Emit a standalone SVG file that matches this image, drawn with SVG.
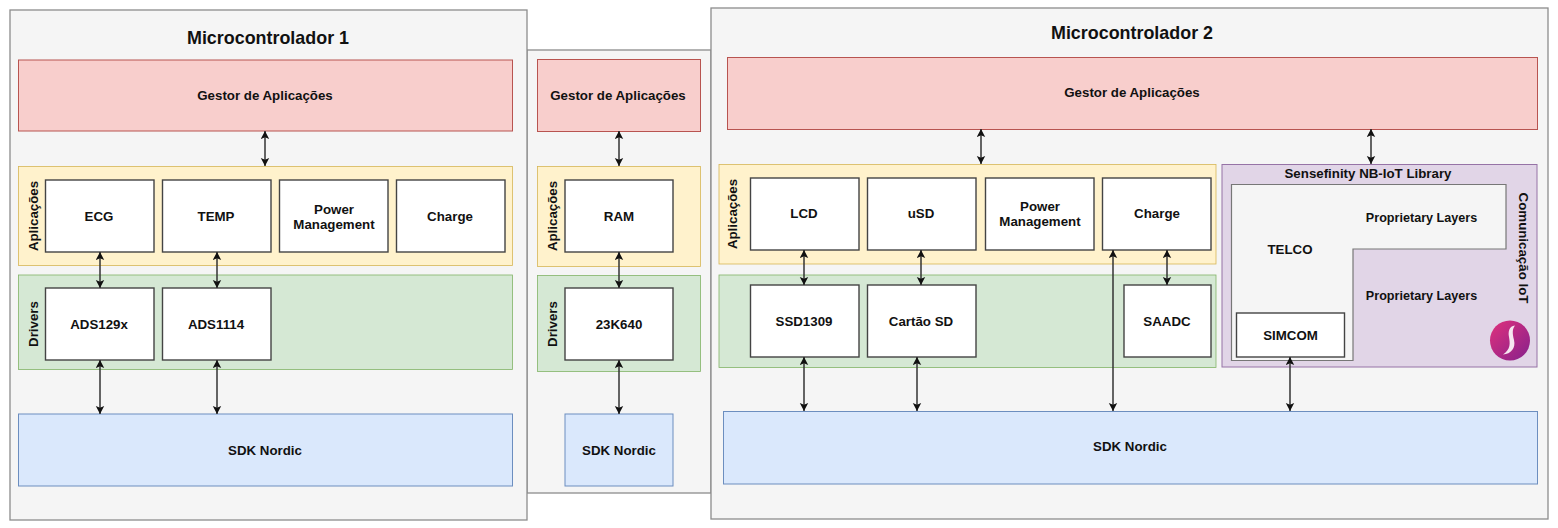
<svg xmlns="http://www.w3.org/2000/svg" width="1558" height="528" viewBox="0 0 1558 528">
<defs>
<marker id="ah" markerUnits="userSpaceOnUse" markerWidth="10" markerHeight="10" refX="8" refY="4.500" orient="auto-start-reverse"><path d="M0 0.300L8 4.500L0 8.700L1.800 4.500Z" fill="#111"/></marker>
<linearGradient id="lg" x1="0" y1="0" x2="1" y2="1"><stop offset="0" stop-color="#e0317c"/><stop offset="1" stop-color="#86208c"/></linearGradient>
</defs>
<style>
text{font-family:"Liberation Sans",Arial,sans-serif;font-weight:700;font-size:13.3px;fill:#111;text-anchor:middle;dominant-baseline:central}
.t{font-size:17.9px}
.s{font-size:12.6px}
.o{fill:#f5f5f5;stroke:#8c8c8c;stroke-width:1.3}
.r{fill:#f8cecc;stroke:#b85450;stroke-width:1}
.y{fill:#fff2cc;stroke:#d6b656;stroke-width:.8}
.g{fill:#d5e8d4;stroke:#82b366;stroke-width:.8}
.b{fill:#dae8fc;stroke:#6c8ebf;stroke-width:1}
.p{fill:#e1d5e7;stroke:#9673a6;stroke-width:1}
.w{fill:#fff;stroke:#444;stroke-width:1.400}
#connectors line{stroke:#333;stroke-width:1.500;marker-start:url(#ah);marker-end:url(#ah)}
</style>
<rect width="1558" height="528" fill="#fff"/>
<g id="panel-center">
<rect class="o" x="527" y="50" width="184" height="443"/>
<rect class="r" x="537.500" y="59.500" width="163" height="72"/><text x="618" y="95">Gestor de Aplicações</text>
<rect class="y" x="537.500" y="166.500" width="163" height="100"/><text x="552" y="216" transform="rotate(-90 552 216)">Aplicações</text>
<rect class="g" x="537.500" y="275.500" width="163" height="96"/><text x="552" y="324" transform="rotate(-90 552 324)">Drivers</text>
<rect class="w" x="565" y="180" width="108" height="72"/><text x="619" y="216">RAM</text>
<rect class="w" x="565" y="288" width="108" height="72"/><text x="619" y="324">23K640</text>
<rect class="b" x="565" y="414" width="108" height="72"/><text x="619" y="450">SDK Nordic</text>
</g>
<g id="panel-mc1">
<rect class="o" x="10" y="10" width="517" height="510"/>
<text class="t" x="268" y="38">Microcontrolador 1</text>
<rect class="r" x="18.500" y="60" width="494" height="71"/><text x="265" y="95">Gestor de Aplicações</text>
<rect class="y" x="18.500" y="166.500" width="494" height="99"/><text x="33" y="216" transform="rotate(-90 33 216)">Aplicações</text>
<rect class="g" x="18.500" y="275" width="494" height="94.500"/><text x="33" y="324" transform="rotate(-90 33 324)">Drivers</text>
<rect class="b" x="18.500" y="414" width="494" height="72"/><text x="265" y="450">SDK Nordic</text>
<rect class="w" x="45.500" y="180" width="108.500" height="72"/><text x="99" y="216">ECG</text>
<rect class="w" x="162.500" y="180" width="108.500" height="72"/><text x="216" y="216">TEMP</text>
<rect class="w" x="279.500" y="180" width="108.500" height="72"/><text x="334" y="209">Power</text><text x="334" y="224.500">Management</text>
<rect class="w" x="396.500" y="180" width="108.500" height="72"/><text x="450" y="216">Charge</text>
<rect class="w" x="45.500" y="288" width="108.500" height="72"/><text x="99" y="324">ADS129x</text>
<rect class="w" x="162.500" y="288" width="108.500" height="72"/><text x="216" y="324">ADS1114</text>
</g>
<g id="panel-mc2">
<rect class="o" x="711" y="8" width="837" height="511"/>
<text class="t" x="1132" y="33">Microcontrolador 2</text>
<rect class="r" x="727.500" y="57.500" width="810" height="72"/><text x="1132" y="92">Gestor de Aplicações</text>
<rect class="y" x="719" y="164.500" width="497" height="99.500"/><text x="732" y="214" transform="rotate(-90 732 214)">Aplicações</text>
<rect class="g" x="719" y="275" width="497" height="92.500"/>
<rect class="b" x="723.500" y="411.500" width="814" height="72.500"/><text x="1130" y="446">SDK Nordic</text>
<rect class="w" x="750.500" y="178" width="108.500" height="72"/><text x="804" y="213">LCD</text>
<rect class="w" x="867.500" y="178" width="108.500" height="72"/><text x="921" y="213">uSD</text>
<rect class="w" x="985.500" y="178" width="108.500" height="72"/><text x="1040" y="206">Power</text><text x="1040" y="221.500">Management</text>
<rect class="w" x="1102.500" y="178" width="108.500" height="72"/><text x="1157" y="213">Charge</text>
<rect class="w" x="750.500" y="285" width="108.500" height="72"/><text x="804" y="321">SSD1309</text>
<rect class="w" x="867.500" y="285" width="108.500" height="72"/><text x="921" y="321">Cartão SD</text>
<rect class="w" x="1124" y="285" width="87" height="72"/><text x="1167" y="321">SAADC</text>
</g>
<g id="iot-library">
<rect class="p" x="1222" y="164.500" width="315" height="202.500"/>
<text x="1368" y="173.500">Sensefinity NB-IoT Library</text>
<text x="1523" y="248" transform="rotate(90 1523 248)">Comunicação IoT</text>
<path d="M1231.500 184.500H1506V249H1353V360.500H1231.500Z" fill="#f5f5f5" stroke="#777" stroke-width="1.200"/>
<text x="1290" y="249">TELCO</text>
<text class="s" x="1421.500" y="218">Proprietary Layers</text>
<text class="s" x="1421.500" y="296">Proprietary Layers</text>
<rect class="w" x="1236.500" y="313" width="108" height="44"/><text x="1290.500" y="335">SIMCOM</text>
<circle cx="1510" cy="340.500" r="20" fill="url(#lg)"/>
<path d="M1515 325.500C1509 326 1508 332 1509 337C1510 343 1511 349 1503 354.500C1511 354 1516 348 1514 340C1512.500 334 1512 329 1515 325.500Z" fill="#f6e6f0"/>
</g>
<g id="connectors">
<line x1="265" y1="131" x2="265" y2="166"/>
<line x1="100" y1="252" x2="100" y2="288"/>
<line x1="217" y1="252" x2="217" y2="288"/>
<line x1="100" y1="360" x2="100" y2="414"/>
<line x1="217" y1="360" x2="217" y2="414"/>
<line x1="619" y1="131" x2="619" y2="166"/>
<line x1="619" y1="252" x2="619" y2="288"/>
<line x1="619" y1="360" x2="619" y2="414"/>
<line x1="981" y1="129" x2="981" y2="164"/>
<line x1="1371" y1="129" x2="1371" y2="164"/>
<line x1="804" y1="250" x2="804" y2="285"/>
<line x1="921" y1="250" x2="921" y2="285"/>
<line x1="1167" y1="250" x2="1167" y2="285"/>
<line x1="804" y1="357" x2="804" y2="411"/>
<line x1="917" y1="357" x2="917" y2="411"/>
<line x1="1113" y1="250" x2="1113" y2="411"/>
<line x1="1290" y1="357" x2="1290" y2="411"/>
</g>
</svg>
